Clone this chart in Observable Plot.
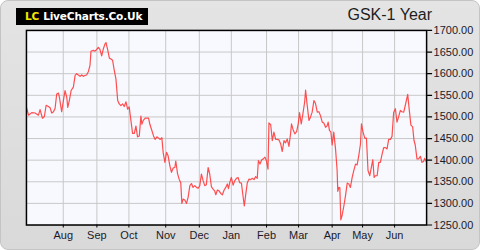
<!DOCTYPE html>
<html>
<head>
<meta charset="utf-8">
<script src="https://cdn.jsdelivr.net/npm/d3@7"></script>
<script src="https://cdn.jsdelivr.net/npm/@observablehq/plot@0.6"></script>
<style>
  html, body { margin: 0; padding: 0; background: #ffffff; }
  #wrap {
    position: relative; width: 478px; height: 248px;
    background: linear-gradient(#e4e4e4, #d9d9d9);
    border: 1px solid #c4c4c4; border-radius: 8px; overflow: hidden;
    font-family: "Liberation Sans", Arial, sans-serif;
  }
  #logo {
    position: absolute; left: 15px; top: 7px; width: 132px; height: 17px;
    background: #000; color: #fff; font-family: "DejaVu Sans", Verdana, sans-serif;
    font-weight: bold; font-size: 10.6px; line-height: 17px; white-space: nowrap;
    padding-left: 9px; box-sizing: border-box; letter-spacing: -0.2px;
  }
  #logo span { color: #f5e400; margin-right: 4px; }
  #title {
    position: absolute; right: 47px; top: 5px; font-size: 16px; color: #1e1e1e;
    font-family: "Liberation Sans", Arial, sans-serif;
  }
  #plot { position: absolute; left: -1px; top: -1px; }
</style>
</head>
<body>
<div id="wrap">
  <div id="plot"></div>
  <div id="logo"><span>LC</span>LiveCharts.Co.Uk</div>
  <div id="title">GSK-1 Year</div>
</div>
<script>
// trading-day index (0 = start of window) and GSK close price (pence)
const days = [
  0,1.3,3.3,5.4,7.5,8.5,10.0,11.2,12.3,13.7,14.8,15.8,16.9,17.9,18.9,20.0,20.6,22.0,23.1,24.1,
  25.2,25.8,26.8,27.9,29.3,30.4,31.4,32.4,33.5,34.5,35.6,36.6,37.6,38.7,39.7,40.3,41.8,42.8,43.9,44.9,
  45.9,47.0,48.0,49.1,49.7,50.7,51.8,52.8,53.8,54.9,55.9,57.0,58.0,59.0,60.1,61.1,62.2,
  63.2,64.2,65.3,66.3,67.4,68.4,69.4,70.5,71.5,72.1,73.0,74.2,75.2,76.3,77.1,78.4,79.4,80.4,81.5,82.5,
  83.6,84.6,85.4,86.5,87.5,88.5,89.6,90.6,91.7,92.7,93.3,94.4,95.4,96.4,97.1,97.9,98.9,100.0,101.0,102.1,
  103.1,104.1,105.2,106.2,107.3,108.3,109.3,110.4,111.4,112.4,113.5,114.5,115.6,116.6,117.6,118.3,119.3,120.3,121.4,122.4,
  123.5,124.5,
  125.5,126.2,127.0,128.0,129.1,130.1,131.2,132.2,133.2,134.3,135.3,136.1,137.0,138.0,139.0,140.1,141.1,142.2,143.2,144.2,
  144.9,145.9,147.0,148.0,149.0,149.9,150.9,151.5,152.6,153.6,154.6,155.7,156.7,157.7,158.8,159.8,160.9,161.9,162.9,164.0,
  165.0,165.6,166.7,167.7,168.8,169.8,170.6,171.7,172.7,173.8,174.4,175.4,176.5,177.5,178.5,179.6,180.6,181.7,182.7,183.7,
  184.8,185.8,186.9,
  187.9,188.5,189.3,190.2,191.0,192.0,193.1,194.1,194.5,195.2,195.8,196.4,197.2,198.3,199.3,200.4,201.4,202.4,203.5,204.5,
  205.6,206.6,207.6,208.7,209.3,210.3,211.4,212.4,213.4,214.5,215.5,216.4,217.2,218.0,219.1,220.1,221.1,222.2,223.2,224.3,
  225.3,226.3,227.4,228.4,229.4,230.5,231.5,232.5,233.6,234.6,235.7,236.7,238.2,239.2,240.2,241.3,242.1,242.9,244.0,245.0,
  246.1,247.1,248.1,248.8,249.8
];
const prices = [
  1522,1504,1510,1509,1504,1517,1497,1501,1527,1524,1521,1509,1512,1520,1553,1555,1545,1512,1538,1561,
  1545,1522,1538,1561,1569,1596,1600,1597,1594,1597,1594,1596,1597,1605,1619,1652,1654,1652,1656,1661,
  1656,1641,1657,1669,1672,1656,1636,1634,1631,1607,1588,1538,1530,1526,1530,1524,1535,
  1518,1523,1491,1462,1462,1479,1454,1456,1502,1483,1492,1497,1497,1497,1483,1468,1456,1448,1454,1451,
  1448,1452,1418,1395,1418,1410,1387,1372,1382,1383,1398,1369,1356,1348,1300,1310,1308,1300,1314,1341,
  1346,1337,1341,1337,1335,1341,1368,1352,1341,1343,1383,1368,1338,1333,1329,1320,1331,1329,1323,1320,
  1331,1337,
  1345,1334,1348,1360,1342,1352,1358,1360,1348,1347,1317,1294,1321,1348,1356,1355,1358,1355,1362,1358,
  1399,1391,1401,1403,1407,1399,1379,1486,1482,1445,1465,1448,1448,1447,1438,1420,1445,1440,1449,1432,
  1461,1484,1469,1461,1466,1484,1510,1484,1507,1534,1562,1527,1492,1500,1511,1538,1531,1511,1512,1503,
  1488,1486,1476,
  1480,1488,1469,1465,1435,1465,1426,1376,1328,1337,1336,1262,1272,1294,1317,1347,1345,1337,1360,1376,
  1391,1389,1410,1438,1484,1465,1451,1451,1376,1364,1384,1401,1360,1364,1364,1395,1395,1414,1429,1429,
  1426,1448,1448,1455,1510,1519,1488,1500,1515,1512,1511,1527,1552,1515,1481,1477,1446,1435,1403,1403,
  1409,1395,1397,1404,1397
];
const monthTicks = [23, 44, 64, 87, 108, 128, 150, 170, 191, 210, 230];
const monthLabels = ["Aug","Sep","Oct","Nov","Dec","Jan","Feb","Mar","Apr","May","Jun"];
const priceTicks = [1250, 1300, 1350, 1400, 1450, 1500, 1550, 1600, 1650, 1700];

const data = days.map((d, i) => ({day: d, price: prices[i]}));

const chart = Plot.plot({
  width: 480,
  height: 250,
  marginLeft: 26,
  marginTop: 30,
  marginRight: 53,
  marginBottom: 25,
  style: {background: "transparent", fontFamily: "'Liberation Sans', Arial, sans-serif", fontSize: "11px", color: "#1a1a2a"},
  x: {domain: [0, 250]},
  y: {domain: [1250, 1700]},
  marks: [
    Plot.frame({fill: "#f8f9ff", stroke: "none"}),
    Plot.ruleY(priceTicks, {stroke: "#c8c8c8", strokeWidth: 1}),
    Plot.ruleX(monthTicks, {stroke: "#c8c8c8", strokeWidth: 1}),
    Plot.line(data, {x: "day", y: "price", stroke: "#ff3b3b", strokeWidth: 1.2, strokeOpacity: 0.9}),
    Plot.frame({stroke: "#000", strokeWidth: 1.5}),
    Plot.axisY({anchor: "right", ticks: priceTicks, tickFormat: d => d.toFixed(2), tickSize: 5, tickPadding: 2, label: null, stroke: "#000", strokeWidth: 1.2, fontSize: 11}),
    Plot.axisX({ticks: monthTicks, tickFormat: d => monthLabels[monthTicks.indexOf(d)], tickSize: 3, tickPadding: 3, label: null, stroke: "#000", fontSize: 11})
  ]
});
document.getElementById("plot").appendChild(chart);
</script>
</body>
</html>
